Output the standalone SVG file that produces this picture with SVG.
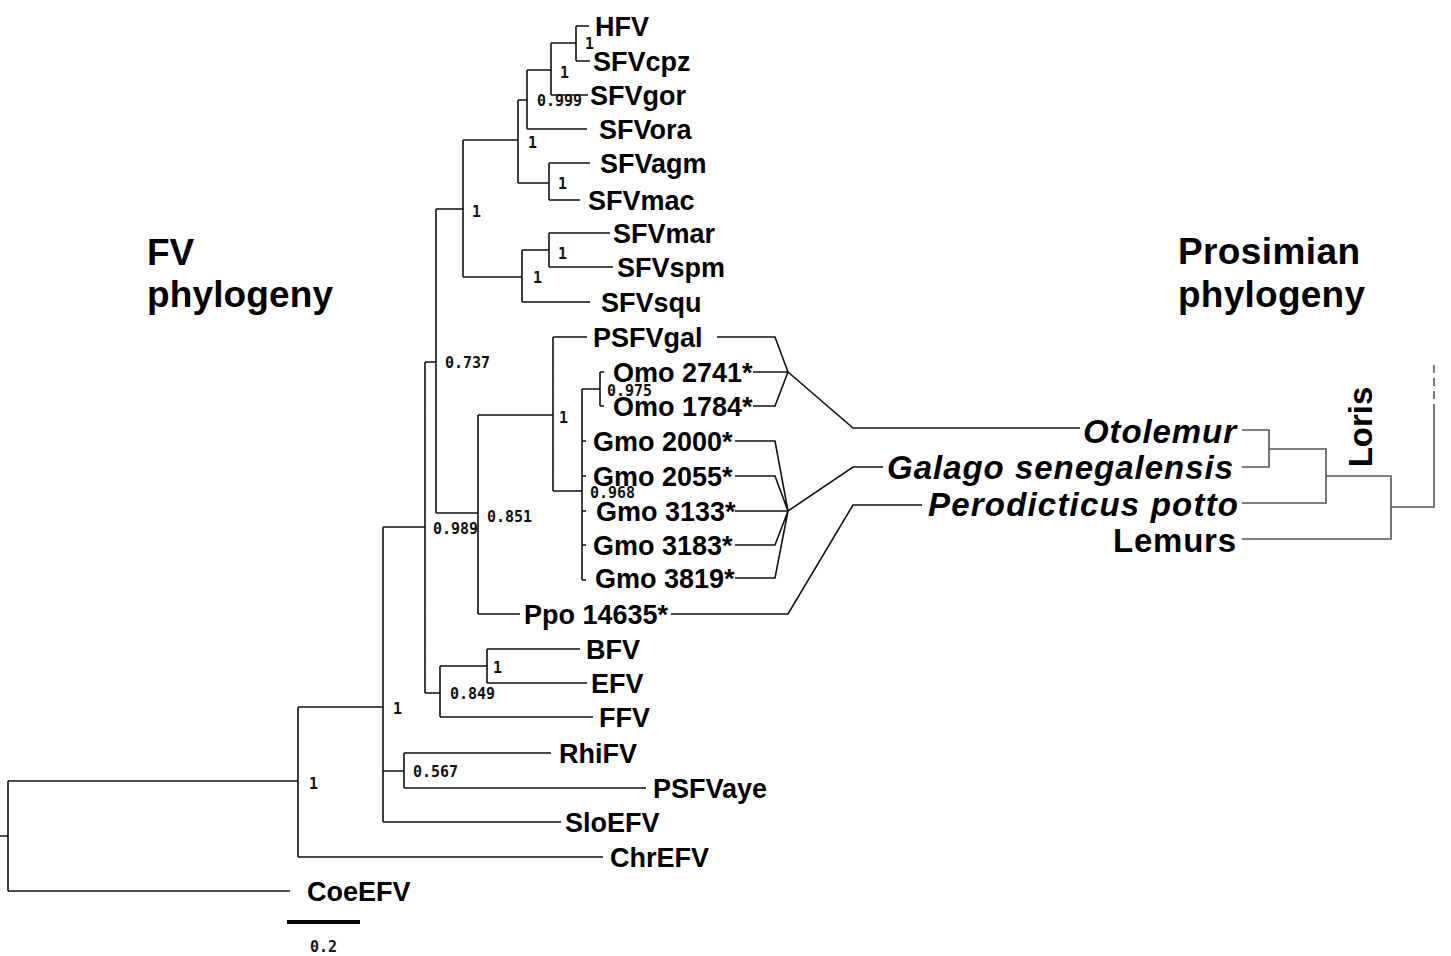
<svg xmlns="http://www.w3.org/2000/svg" width="1451" height="956" viewBox="0 0 1451 956">
<style>
.bg{fill:#fff}
.br{fill:none;stroke:#111;stroke-width:1.6}
.cn{fill:none;stroke:#111;stroke-width:1.6}
.pr{fill:none;stroke:#555;stroke-width:1.6}
.lbl{font-family:"Liberation Sans",Arial,sans-serif;font-weight:bold;font-size:27px;fill:#000}
.sp{font-family:"Liberation Sans",Arial,sans-serif;font-weight:bold;font-style:italic;font-size:33px;fill:#000}
.sp2{font-family:"Liberation Sans",Arial,sans-serif;font-weight:bold;font-size:33px;fill:#000}
.ttl{font-family:"Liberation Sans",Arial,sans-serif;font-weight:bold;font-size:37px;fill:#000}
.sup{font-family:"DejaVu Sans Mono",monospace;font-weight:bold;font-size:15px;fill:#111}
</style>
<rect class="bg" x="0" y="0" width="1451" height="956"/>

<g id="titles">
<text class="ttl" x="147" y="265">FV</text>
<text class="ttl" x="147" y="307" textLength="186">phylogeny</text>
<text class="ttl" x="1178" y="264" textLength="182">Prosimian</text>
<text class="ttl" x="1178" y="307" textLength="187">phylogeny</text>
</g>

<g id="fv-tree">
<path class="br" d="M0,836 H8 M8,781 V891 M8,781 H298 M8,891 H290
M298,707 V857 M298,857 H603 M298,707 H383
M383,527 V822 M383,822 H561 M383,771 H404 M404,753 V788 M404,753 H551 M404,788 H646
M383,527 H425 M425,362 V693 M425,693 H440 M440,666 V717 M440,717 H593 M440,666 H487 M487,649 V683 M487,649 H580 M487,683 H587
M425,362 H436 M436,209 V513 M436,513 H478 M478,415 V614 M478,614 H520 M478,415 H553
M553,337 V491 M553,337 H587 M553,491 H582 M582,389 V580
M582,441 H586 M582,476 H586 M582,511 H586 M582,545 H586 M582,580 H586
M582,389 H600 M600,372 V406 M600,372 H604 M600,406 H604
M436,209 H463 M463,140 V277 M463,277 H522 M522,250 V302 M522,302 H590 M522,250 H549 M549,233 V267 M549,233 H610 M549,267 H613
M463,140 H518 M518,100 V183 M518,183 H549 M549,163 V200 M549,163 H590 M549,200 H580
M518,100 H527 M527,70 V129 M527,129 H587 M527,70 H551 M551,43 V95 M551,95 H588 M551,43 H576 M576,26 V61 M576,26 H589 M576,61 H590"/>
<path d="M287,922 H360" stroke="#000" stroke-width="4"/>
</g>

<g id="supports">
<text class="sup" x="585" y="49">1</text>
<text class="sup" x="560" y="78">1</text>
<text class="sup" x="537" y="106">0.999</text>
<text class="sup" x="528" y="148">1</text>
<text class="sup" x="558" y="189">1</text>
<text class="sup" x="472" y="217">1</text>
<text class="sup" x="558" y="259">1</text>
<text class="sup" x="533" y="283">1</text>
<text class="sup" x="445" y="368">0.737</text>
<text class="sup" x="559" y="423">1</text>
<text class="sup" x="607" y="396">0.975</text>
<text class="sup" x="590" y="498">0.968</text>
<text class="sup" x="487" y="522">0.851</text>
<text class="sup" x="433" y="534">0.989</text>
<text class="sup" x="493" y="673">1</text>
<text class="sup" x="450" y="699">0.849</text>
<text class="sup" x="393" y="714">1</text>
<text class="sup" x="413" y="777">0.567</text>
<text class="sup" x="309" y="789">1</text>
<text class="sup" x="310" y="952">0.2</text>
</g>

<g id="leaves">
<text class="lbl" x="595" y="36">HFV</text>
<text class="lbl" x="593" y="71">SFVcpz</text>
<text class="lbl" x="590" y="105">SFVgor</text>
<text class="lbl" x="599" y="139">SFVora</text>
<text class="lbl" x="600" y="173">SFVagm</text>
<text class="lbl" x="588" y="210">SFVmac</text>
<text class="lbl" x="613" y="243">SFVmar</text>
<text class="lbl" x="617" y="277">SFVspm</text>
<text class="lbl" x="601" y="312">SFVsqu</text>
<text class="lbl" x="593" y="347">PSFVgal</text>
<text class="lbl" x="613" y="382">Omo 2741*</text>
<text class="lbl" x="613" y="416">Omo 1784*</text>
<text class="lbl" x="593" y="451">Gmo 2000*</text>
<text class="lbl" x="593" y="486">Gmo 2055*</text>
<text class="lbl" x="596" y="521">Gmo 3133*</text>
<text class="lbl" x="593" y="555">Gmo 3183*</text>
<text class="lbl" x="595" y="588">Gmo 3819*</text>
<text class="lbl" x="524" y="624">Ppo 14635*</text>
<text class="lbl" x="586" y="659">BFV</text>
<text class="lbl" x="591" y="693">EFV</text>
<text class="lbl" x="599" y="727">FFV</text>
<text class="lbl" x="559" y="763">RhiFV</text>
<text class="lbl" x="653" y="798">PSFVaye</text>
<text class="lbl" x="565" y="832">SloEFV</text>
<text class="lbl" x="610" y="867">ChrEFV</text>
<text class="lbl" x="307" y="901">CoeEFV</text>
</g>

<g id="connectors">
<path class="cn" d="M717,337 H775 L788,372 M753,372 H788 M753,406 H775 L788,372 M788,372 L853,428 H1080
M735,441 H775 L788,511 M735,476 H775 L788,511 M735,511 H788 M735,545 H775 L788,511 M735,578 H775 L788,511 M788,511 L853,467 H883
M671,614 H788 L853,505 H922"/>
</g>

<g id="prosimian-labels">
<text class="sp" x="1236" y="443" text-anchor="end" textLength="153" lengthAdjust="spacing">Otolemur</text>
<text class="sp" x="1233" y="479" text-anchor="end" textLength="346" lengthAdjust="spacing">Galago  senegalensis</text>
<text class="sp" x="1238" y="516" text-anchor="end" textLength="310" lengthAdjust="spacing">Perodicticus potto</text>
<text class="sp2" x="1236" y="552" text-anchor="end" textLength="123" lengthAdjust="spacing">Lemurs</text>
</g>

<g id="prosimian-tree">
<path class="pr" d="M1242,430 H1269 V467 H1242 M1269,449 H1326 V503 H1242 M1326,476 H1391 V539 H1242 M1391,507 H1434 V412"/>
<path class="pr" d="M1434,412 V360" stroke-dasharray="8 5"/>
<text class="sp2" transform="translate(1372,427) rotate(-90)" text-anchor="middle">Loris</text>
</g>
</svg>
